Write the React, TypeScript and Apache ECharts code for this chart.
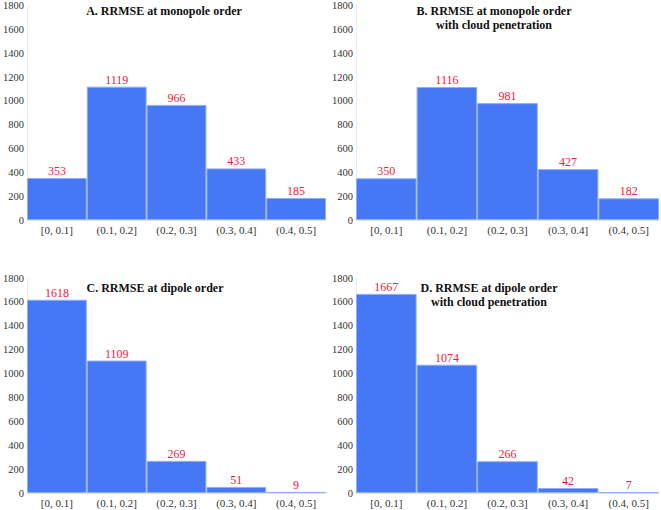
import React, { useEffect, useRef } from "react";
import * as echarts from "echarts";

const categories = ["[0, 0.1]", "(0.1, 0.2]", "(0.2, 0.3]", "(0.3, 0.4]", "(0.4, 0.5]"];
const monopole = [353, 1119, 966, 433, 185];
const monopoleCloud = [350, 1116, 981, 427, 182];
const dipole = [1618, 1109, 269, 51, 9];
const dipoleCloud = [1667, 1074, 266, 42, 7];
const titles = [
  "A. RRMSE at monopole order",
  "B. RRMSE at monopole order\nwith cloud penetration",
  "C. RRMSE at dipole order",
  "D. RRMSE at dipole order\nwith cloud penetration",
];
const yTicks = { min: 0, max: 1800, interval: 200 };

const FONT = "'Liberation Serif', 'Times New Roman', serif";

export default function App() {
  const ref = useRef<HTMLDivElement>(null);
  useEffect(() => {
    if (!ref.current) return;
    const chart = echarts.init(ref.current, undefined, { renderer: "svg" });
    const grids = [
      { left: 23, top: 5, width: 303, height: 215 },
      { left: 356, top: 5, width: 303, height: 215 },
      { left: 23, top: 278, width: 303, height: 215 },
      { left: 356, top: 278, width: 303, height: 215 },
    ];
    const datasets = [monopole, monopoleCloud, dipole, dipoleCloud];
    const titlePos = [
      { x: 164, y: 11 },
      { x: 494, y: 18 },
      { x: 155, y: 288 },
      { x: 489, y: 295 },
    ];
    chart.setOption({
      animation: false,
      backgroundColor: "#ffffff",
      grid: grids,
      xAxis: grids.map((_, i) => ({
        type: "category",
        gridIndex: i,
        data: categories,
        axisTick: { show: false },
        axisLine: { show: true, lineStyle: { color: "#e4e4e4" } },
        axisLabel: { color: "#333", fontFamily: FONT, fontSize: 11, margin: 4, interval: 0 },
        splitLine: { show: false },
      })),
      yAxis: grids.map((_, i) => ({
        type: "value",
        gridIndex: i,
        min: yTicks.min,
        max: yTicks.max,
        interval: yTicks.interval,
        axisTick: { show: false },
        axisLine: { show: true, lineStyle: { color: "#ececec" } },
        axisLabel: {
          color: "#333",
          fontFamily: FONT,
          fontSize: 10.5,
          margin: 3,
          formatter: (v: number) => String(v),
        },
        splitLine: { show: false },
      })),
      series: datasets.map((d, i) => ({
        type: "bar",
        xAxisIndex: i,
        yAxisIndex: i,
        data: d,
        barCategoryGap: "0%",
        itemStyle: { color: "#4678f5", borderColor: "#8eaefa", borderWidth: 1 },
        label: {
          show: true,
          position: "top",
          distance: 1,
          color: "#f0203e",
          fontFamily: FONT,
          fontSize: 12,
        },
      })),
      graphic: titles.map((t, i) => ({
        type: "text",
        x: titlePos[i].x,
        y: titlePos[i].y,
        style: {
          text: t,
          fontFamily: FONT,
          fontWeight: "bold",
          fontSize: 12,
          lineHeight: 14,
          fill: "#111",
          align: "center",
          verticalAlign: "middle",
        },
      })),
    });
    return () => chart.dispose();
  }, []);
  return (
    <div
      ref={ref}
      style={{ position: "absolute", left: 0, top: 0, width: 661, height: 510 }}
    />
  );
}
